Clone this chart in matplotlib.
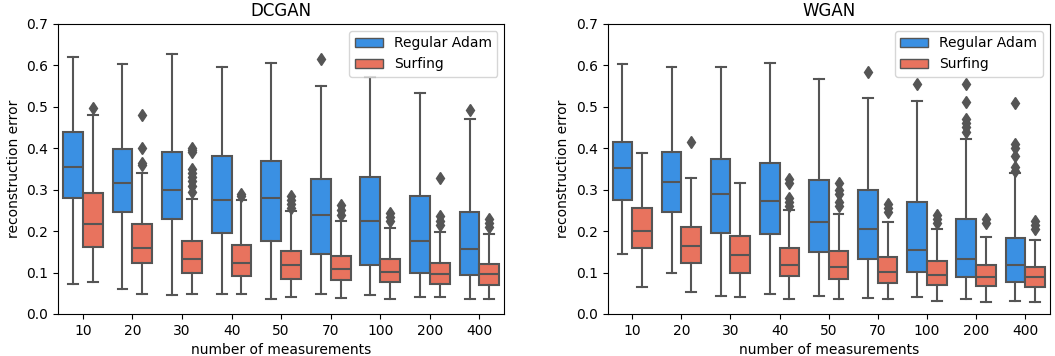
import colorsys
import numpy as np
import matplotlib
matplotlib.use("Agg")
import matplotlib.pyplot as plt
import matplotlib.colors as mcolors
from matplotlib.patches import Patch

measurements = ["10", "20", "30", "40", "50", "70", "100", "200", "400"]

# each box: (whislo, q1, median, q3, whishi, fliers)
dcgan_adam = [
    (0.073, 0.281, 0.355, 0.440, 0.619, []),
    (0.060, 0.247, 0.315, 0.399, 0.603, []),
    (0.046, 0.230, 0.300, 0.390, 0.627, []),
    (0.048, 0.195, 0.275, 0.381, 0.596, []),
    (0.037, 0.177, 0.280, 0.370, 0.606, []),
    (0.048, 0.144, 0.238, 0.326, 0.549, [0.615]),
    (0.046, 0.117, 0.224, 0.330, 0.571, []),
    (0.040, 0.100, 0.177, 0.284, 0.534, []),
    (0.035, 0.094, 0.158, 0.247, 0.471, [0.492]),
]
dcgan_surf = [
    (0.077, 0.162, 0.216, 0.292, 0.480, [0.498]),
    (0.049, 0.124, 0.160, 0.217, 0.340, [0.481, 0.400, 0.364, 0.360]),
    (0.048, 0.098, 0.132, 0.176, 0.278, [0.400, 0.395, 0.390, 0.350, 0.340, 0.330, 0.320, 0.310, 0.295]),
    (0.048, 0.092, 0.123, 0.166, 0.274, [0.290, 0.285]),
    (0.040, 0.085, 0.117, 0.152, 0.248, [0.285, 0.275, 0.265, 0.255]),
    (0.039, 0.083, 0.109, 0.140, 0.224, [0.262, 0.250, 0.240]),
    (0.036, 0.077, 0.102, 0.132, 0.207, [0.244, 0.235, 0.225]),
    (0.041, 0.073, 0.096, 0.124, 0.198, [0.329, 0.236, 0.225, 0.215]),
    (0.035, 0.071, 0.096, 0.121, 0.193, [0.230, 0.220, 0.210]),
]
wgan_adam = [
    (0.144, 0.275, 0.352, 0.415, 0.602, []),
    (0.098, 0.246, 0.318, 0.392, 0.596, []),
    (0.044, 0.195, 0.289, 0.373, 0.597, []),
    (0.048, 0.192, 0.272, 0.365, 0.605, []),
    (0.043, 0.149, 0.222, 0.323, 0.567, []),
    (0.038, 0.132, 0.206, 0.298, 0.520, [0.585]),
    (0.040, 0.102, 0.154, 0.269, 0.513, [0.556]),
    (0.035, 0.090, 0.133, 0.228, 0.421, [0.555, 0.512, 0.470, 0.460, 0.450, 0.440]),
    (0.031, 0.077, 0.117, 0.183, 0.339, [0.508, 0.410, 0.400, 0.380, 0.355, 0.345]),
]
wgan_surf = [
    (0.065, 0.160, 0.200, 0.255, 0.388, []),
    (0.053, 0.124, 0.165, 0.211, 0.327, [0.415]),
    (0.040, 0.100, 0.142, 0.189, 0.315, []),
    (0.037, 0.091, 0.118, 0.159, 0.251, [0.325, 0.315, 0.280, 0.270, 0.260]),
    (0.036, 0.085, 0.113, 0.151, 0.241, [0.315, 0.300, 0.290, 0.270, 0.260]),
    (0.036, 0.074, 0.102, 0.138, 0.222, [0.265, 0.255, 0.245]),
    (0.031, 0.071, 0.095, 0.129, 0.206, [0.240, 0.230, 0.220]),
    (0.028, 0.067, 0.090, 0.118, 0.185, [0.230, 0.220]),
    (0.028, 0.065, 0.089, 0.114, 0.179, [0.225, 0.215, 0.205]),
]


def desat(c, s=0.75):
    r, g, b = mcolors.to_rgb(c)
    h, l, sat = colorsys.rgb_to_hls(r, g, b)
    return colorsys.hls_to_rgb(h, l, sat * s)


blue = desat("dodgerblue")
red = desat("tomato")
gray = "#555555"


def to_stats(rows):
    return [dict(whislo=a, q1=b, med=c, q3=d, whishi=e, fliers=f) for a, b, c, d, e, f in rows]


def draw(ax, adam, surf, title):
    x = np.arange(len(measurements))
    for rows, off, col in [(adam, -0.2, blue), (surf, 0.2, red)]:
        ax.bxp(to_stats(rows), positions=x + off, widths=0.4, patch_artist=True,
               manage_ticks=False,
               boxprops=dict(facecolor=col, edgecolor=gray, linewidth=1.5),
               medianprops=dict(color=gray, linewidth=1.5),
               whiskerprops=dict(color=gray, linewidth=1.5),
               capprops=dict(color=gray, linewidth=1.5),
               flierprops=dict(marker="d", markerfacecolor=gray, markeredgecolor=gray,
                               markersize=6))
    ax.set_xticks(x)
    ax.set_xticklabels(measurements)
    ax.set_xlim(-0.5, len(measurements) - 0.5)
    ax.set_ylim(0, 0.7)
    ax.set_xlabel("number of measurements")
    ax.set_ylabel("reconstruction error")
    ax.set_title(title)
    ax.legend(handles=[Patch(facecolor=blue, edgecolor=gray, label="Regular Adam"),
                       Patch(facecolor=red, edgecolor=gray, label="Surfing")],
              loc="upper right")


fig = plt.figure(figsize=(10.55, 3.56), dpi=100)
ax1 = fig.add_axes([0.055, 0.118, 0.423, 0.815])
ax2 = fig.add_axes([0.576, 0.118, 0.419, 0.815])
draw(ax1, dcgan_adam, dcgan_surf, "DCGAN")
draw(ax2, wgan_adam, wgan_surf, "WGAN")
fig.savefig("out.png", dpi=100)
